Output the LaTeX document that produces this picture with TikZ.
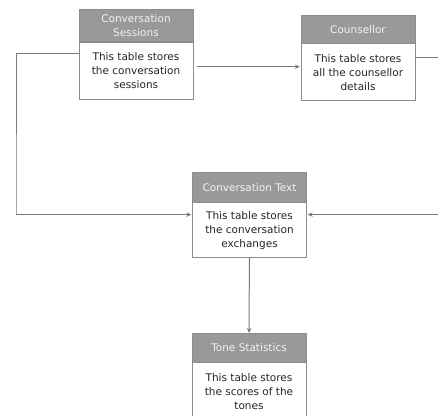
\documentclass[tikz,border=0pt]{standalone}
\usepackage{fontspec}
\setmainfont{DejaVu Sans}
\usetikzlibrary{positioning,arrows.meta}

\definecolor{headgray}{HTML}{999999}
\definecolor{edgegray}{HTML}{8C8C8C}
\definecolor{linegray}{HTML}{7A7A7A}

\begin{document}
\begin{tikzpicture}[
    x=1pt, y=-1pt,
    font=\fontsize{10.5}{14}\selectfont,
    head/.style={rectangle, draw=edgegray, fill=headgray, text=white!95!black, minimum width=114pt, minimum height=29pt, inner ysep=5pt, align=center, anchor=north},
    body/.style={rectangle, draw=edgegray, fill=white, text=black!85, minimum width=114pt, minimum height=57pt, align=center, below=0pt of #1},
    link/.style={-{Stealth[length=5pt,width=4.5pt]}, draw=linegray, line width=1pt, shorten >=1pt}
]
    \useasboundingbox (0,0) rectangle (438,415);

    % Tables
    \node[head] (sessh) at (136,9) {Conversation\\Sessions};
    \node[body=sessh] (sessb) {This table stores\\the conversation\\sessions};

    \node[head, minimum height=28pt] (counsh) at (358,15) {Counsellor};
    \node[body=counsh] (counsb) {This table stores\\all the counsellor\\details};

    \node[head, minimum height=30pt] (texth) at (249.5,172) {Conversation Text};
    \node[body=texth, minimum height=55pt] (textb) {This table stores\\the conversation\\exchanges};

    \node[head] (toneh) at (249,333) {Tone Statistics};
    \node[body=toneh] (toneb) {This table stores\\the scores of the\\tones};

    % Links
    \coordinate (lc) at (16,214);
    \coordinate (rc) at (450,214);

    \draw[link] ([yshift=16.5pt]sessb.west) -| (lc) |- ([yshift=15.5pt]textb.west);
    \draw[link, shorten <=4pt] ([yshift=3.5pt]sessb.east) -- ([yshift=3.5pt]sessb.east -| counsb.west);
    \draw[link] ([yshift=14.5pt]counsb.east) -| (rc) |- ([yshift=15.5pt]textb.east);
    \draw[link, shorten >=0pt] (textb) -- (toneh);
\end{tikzpicture}
\end{document}
